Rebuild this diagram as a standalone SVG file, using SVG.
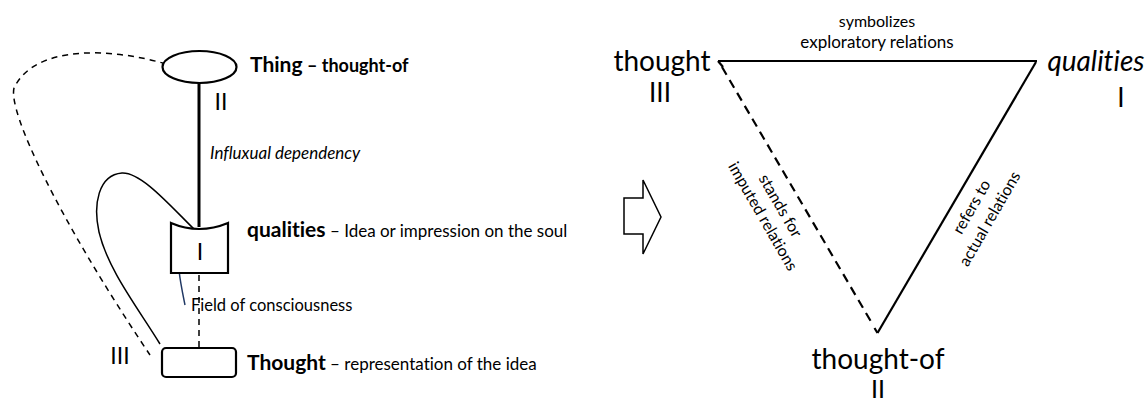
<svg xmlns="http://www.w3.org/2000/svg" width="1147" height="403" viewBox="0 0 1147 403">
<style>
  text { font-family: Lato, "Liberation Sans", sans-serif; fill: #000; font-variant-ligatures: none; }
  .b { font-weight: bold; }
  .it { font-style: italic; }
  .ln { fill: none; stroke: #000; stroke-width: 1.5; }
  .thick { fill: none; stroke: #000; stroke-width: 3; }
  .dash { fill: none; stroke: #000; stroke-width: 1.5; stroke-dasharray: 6 5; }
  .tdash { fill: none; stroke: #000; stroke-width: 2.2; stroke-dasharray: 9 6; }
  .tline { fill: none; stroke: #000; stroke-width: 2.2; }
  .shape { fill: #fff; stroke: #000; stroke-width: 2.2; }
  .s16 { font-size: 16px; }
  .s17 { font-size: 17px; }
  .num { font-size: 23px; }
  .big { font-size: 28px; }
</style>

<!-- connectors -->
<g id="connectors">
  <!-- left diagram -->
  <path class="dash" d="M166,64 C112,48 35,44 14,88 C8,112 58,218 150,355"/>
  <path class="ln" d="M198,233 C172,208 142,172 122,173 C98,175 93,205 99,232 C108,270 138,308 160,344"/>
  <line class="thick" x1="199" y1="83" x2="199" y2="227"/>
  <line class="dash" x1="199" y1="275" x2="199" y2="347"/>
  <path fill="none" stroke="#203864" stroke-width="1.5" d="M185,305 C181,285 175,258 182,253 C188,249 195,260 199,268"/>
  <!-- triangle -->
  <line class="tline" x1="718" y1="61" x2="1037" y2="61"/>
  <line class="tline" x1="718" y1="61" x2="723" y2="67"/>
  <line class="tdash" x1="722" y1="67" x2="873" y2="325"/>
  <line class="tline" x1="1036" y1="62" x2="877.5" y2="333"/>
  <line class="tline" x1="874.5" y1="328" x2="877.5" y2="333"/>
</g>

<!-- left diagram nodes -->
<g id="thing">
  <ellipse class="shape" cx="199.5" cy="67" rx="37" ry="16"/>
  <text x="250" y="72"><tspan class="b" font-size="21">Thing</tspan><tspan class="b" font-size="18"> – thought-of</tspan></text>
  <text class="num" x="221" y="110" text-anchor="middle">II</text>
</g>

<g id="influx-label">
  <text class="it" font-size="17" x="210" y="159">Influxual dependency</text>
</g>

<g id="qualities">
  <path class="shape" d="M171,223 Q199,235 228,223 L228,273 L171,273 Z"/>
  <text class="num" x="200" y="260" text-anchor="middle">I</text>
  <text x="247" y="237"><tspan class="b" font-size="21">qualities</tspan><tspan class="s17"> – Idea or impression on the soul</tspan></text>
</g>

<g id="field-label">
  <text font-size="16.5" x="191" y="311">Field of consciousness</text>
</g>

<g id="thought">
  <rect class="shape" x="162" y="348" width="74" height="29" rx="4"/>
  <text class="num" x="120" y="364" text-anchor="middle">III</text>
  <text x="247" y="370"><tspan class="b" font-size="21">Thought</tspan><tspan class="s17"> – representation of the idea</tspan></text>
</g>

<!-- block arrow -->
<g id="arrow">
  <polygon fill="#fff" stroke="#000" stroke-width="1.5" points="624,198 643,198 643,180 661,217 643,254 643,234 624,234"/>
</g>

<!-- triangle nodes -->
<g id="tri-thought">
  <text class="big" x="662" y="71" text-anchor="middle">thought</text>
  <text font-size="26" x="660" y="102" text-anchor="middle">III</text>
</g>
<g id="tri-qualities">
  <text class="big it" x="1096" y="71" text-anchor="middle">qualities</text>
  <text font-size="26" x="1121" y="107" text-anchor="middle">I</text>
</g>
<g id="tri-thoughtof">
  <text class="big" x="878" y="369" text-anchor="middle">thought-of</text>
  <text font-size="25" x="878" y="398" text-anchor="middle">II</text>
</g>

<g id="edge-labels">
  <text class="s16" x="877" y="27" text-anchor="middle">symbolizes</text>
  <text font-size="17" x="877" y="48" text-anchor="middle">exploratory relations</text>
  <text class="s16" text-anchor="middle" transform="translate(780,206) rotate(60)" y="5">stands for</text>
  <text class="s16" text-anchor="middle" transform="translate(762.5,216.5) rotate(60)" y="5">imputed relations</text>
  <text class="s16" text-anchor="middle" transform="translate(972,207) rotate(-60)" y="5">refers to</text>
  <text class="s16" text-anchor="middle" transform="translate(990,219) rotate(-60)" y="5">actual relations</text>
</g>
</svg>
